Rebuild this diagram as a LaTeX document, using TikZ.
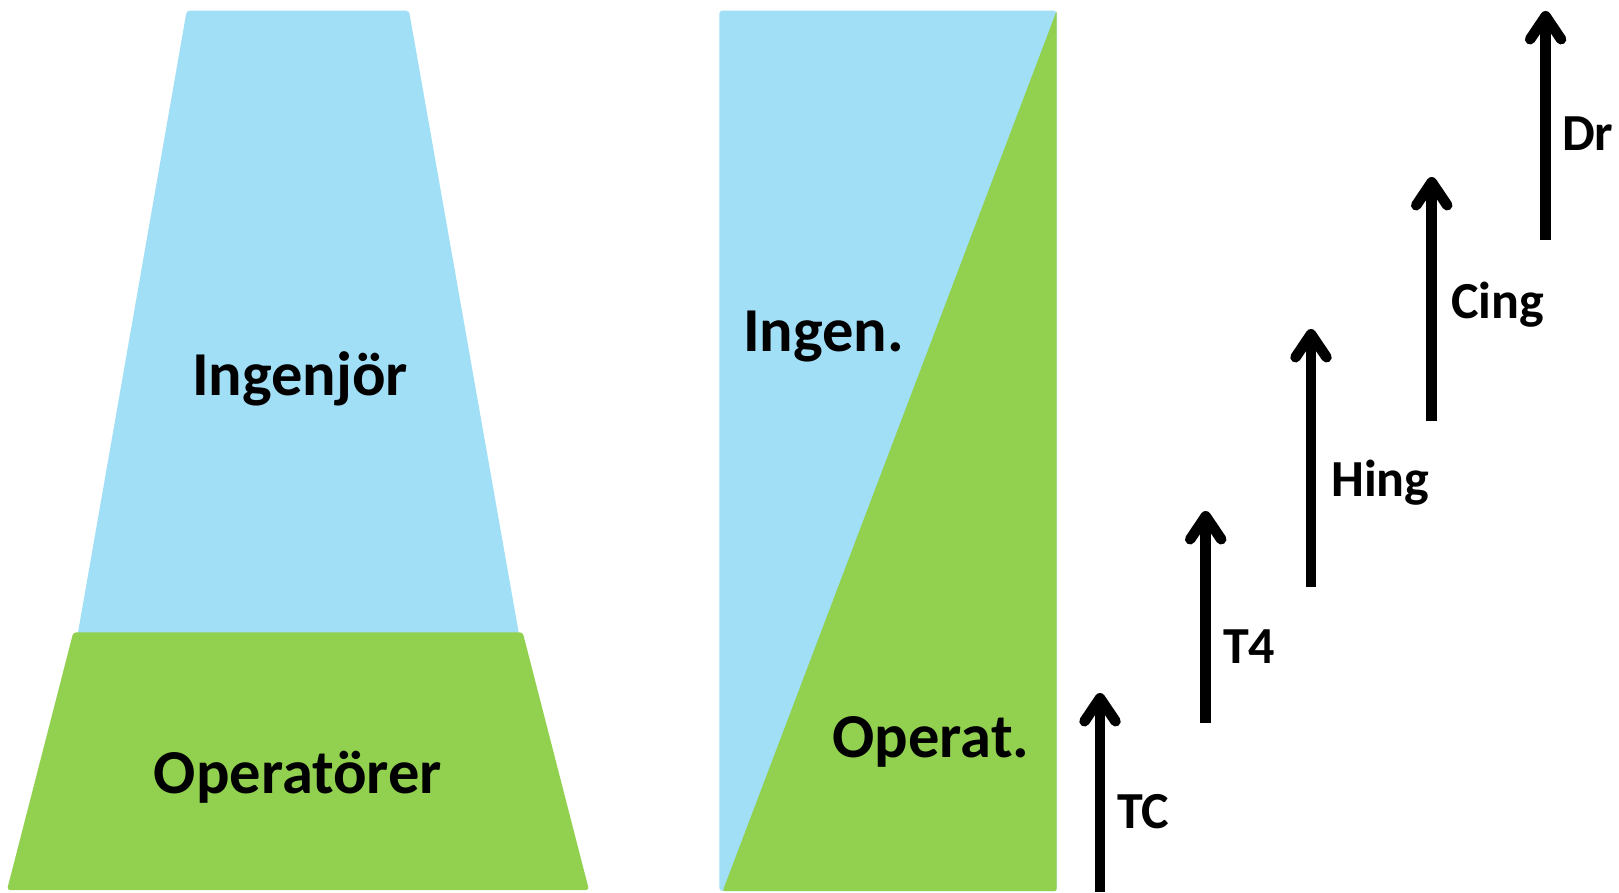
\documentclass[tikz,border=0pt]{standalone}
\usepackage{fontspec}
\setmainfont{Carlito}
\usetikzlibrary{arrows.meta}
\definecolor{skyblue}{RGB}{161,223,247}
\definecolor{leafgreen}{RGB}{146,208,80}
\tikzset{
  bigtext/.style={font=\fontsize{62.5}{70}\selectfont\bfseries, inner sep=0pt},
  smalltext/.style={font=\fontsize{52}{60}\selectfont\bfseries, inner sep=0pt, anchor=base west},
  uparrow/.style={line width=10.5pt, -{Straight Barb[length=23pt,width=31pt,round]}}
}
\begin{document}
\begin{tikzpicture}[x=1pt,y=-1pt]
\useasboundingbox (0,0) rectangle (1619,892);
% left trapezoids
\fill[skyblue, rounded corners=3pt] (76.7,640) -- (186.7,10.7) -- (409,10.7) -- (520,640) -- cycle;
\fill[leafgreen, rounded corners=3pt] (7,890) -- (73.3,632.3) -- (522.7,632.3) -- (589,890) -- cycle;
% right rectangle
\fill[skyblue, rounded corners=3pt] (719.3,10.7) rectangle (1056.7,891);
\fill[leafgreen, rounded corners=2pt] (1056.7,10.7) -- (1056.7,891) -- (722.7,891) -- cycle;
% labels
\node[bigtext, anchor=base] (ing) at (300,395) {Ingenjör};
\node[bigtext, anchor=base] (op) at (298,793) {Operatörer};
\node[bigtext, anchor=base] (ing2) at (823.5,351) {Ingen.};
\node[bigtext, anchor=base] (op2) at (931,757) {Operat.};
% arrows
\coordinate (tcA) at (1100,892);   \coordinate (tcB) at (1100,693);
\coordinate (t4A) at (1205.7,723); \coordinate (t4B) at (1205.7,511);
\coordinate (hA) at (1311,587);    \coordinate (hB) at (1311,329);
\coordinate (cA) at (1431.7,421);  \coordinate (cB) at (1431.7,177);
\coordinate (dA) at (1545.6,240);  \coordinate (dB) at (1545.6,11);
\draw[uparrow] (tcA) -- (tcB);
\draw[uparrow] (t4A) -- (t4B);
\draw[uparrow] (hA) -- (hB);
\draw[uparrow] (cA) -- (cB);
\draw[uparrow] (dA) -- (dB);
\node[smalltext] (tc) at (1117,828) {TC};
\node[smalltext] (t4) at (1223,663) {T4};
\node[smalltext] (hing) at (1331,496) {Hing};
\node[smalltext] (cing) at (1451,318) {Cing};
\node[smalltext] (dr) at (1562,150) {Dr};
\end{tikzpicture}
\end{document}
